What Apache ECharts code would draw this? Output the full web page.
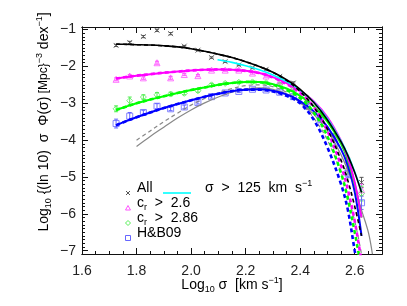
<!DOCTYPE html>
<html><head><meta charset="utf-8">
<script src="https://cdn.jsdelivr.net/npm/echarts@6/dist/echarts.min.js"></script>
<style>html,body{margin:0;padding:0;background:#fff}#c{width:407px;height:306px}</style>
</head><body><div id="c"></div>
<script>
// ---------- data ----------
const xTicks = [1.6, 1.8, 2.0, 2.2, 2.4, 2.6];
const yTicks = [-7, -6, -5, -4, -3, -2, -1];
const binX = [1.725,1.775,1.825,1.875,1.925,1.975,2.025,2.075,2.125,2.175,2.225,2.275,2.325,2.375,2.425,2.475,2.525,2.575,2.625];
const allPts  = [-1.43,-1.35,-1.19,-1.02,-1.11,-1.45,-1.56,-1.76,-1.87,-1.96,-2.04,-2.08,-2.27,-2.45,-2.95,-3.35,-3.95,-4.55,-5.15];
const allErr  = [0.03,0.03,0.03,0.03,0.03,0.02,0.02,0.02,0.02,0.02,0.02,0.02,0.02,0.03,0.03,0.04,0.06,0.08,0.14];
const cr26Pts = [-2.35,-2.26,-2.31,-1.90,-2.31,-2.22,-2.25,-2.10,-2.10,-2.10,-2.18,-2.26,-2.40,-2.60,-2.90,-3.32,-3.92,-4.75,-5.35];
const cr26Err = [0.04,0.04,0.04,0.04,0.04,0.03,0.03,0.03,0.03,0.03,0.03,0.03,0.03,0.03,0.04,0.05,0.07,0.10,0.16];
const cr286Pts= [-3.15,-2.93,-2.83,-2.77,-2.75,-2.73,-2.66,-2.50,-2.46,-2.43,-2.42,-2.44,-2.50,-2.62,-2.85,-3.30,-3.90,-4.80,-5.45];
const cr286Err= [0.08,0.10,0.06,0.06,0.05,0.04,0.04,0.04,0.03,0.03,0.03,0.03,0.03,0.04,0.05,0.06,0.08,0.12,0.20];
const hbPts   = [-3.55,-3.35,-3.25,-3.08,-3.15,-3.10,-2.98,-2.82,-2.72,-2.68,-2.62,-2.64,-2.70,-2.82,-3.08,-3.45,-4.10,-4.90,-5.70];
const hbErr   = [0.12,0.10,0.06,0.07,0.05,0.05,0.04,0.04,0.04,0.03,0.03,0.03,0.03,0.04,0.05,0.06,0.08,0.12,0.18];

const fitX     = [1.725,1.75,1.8,1.85,1.9,1.95,2.0,2.05,2.1,2.15,2.2,2.25,2.3,2.35,2.4,2.45,2.5,2.55,2.575,2.6,2.625];
const allFit   = [-1.40,-1.40,-1.41,-1.42,-1.44,-1.47,-1.52,-1.59,-1.67,-1.76,-1.87,-2.00,-2.16,-2.36,-2.62,-2.98,-3.45,-4.05,-4.42,-4.88,-5.42];
const allFitD  = [-1.40,-1.40,-1.41,-1.42,-1.44,-1.47,-1.52,-1.59,-1.67,-1.76,-1.87,-2.00,-2.16,-2.38,-2.68,-3.10,-3.70,-4.55,-5.10,-5.80,-6.60];
const cr26Fit  = [-2.33,-2.30,-2.25,-2.21,-2.17,-2.14,-2.11,-2.09,-2.08,-2.09,-2.12,-2.18,-2.29,-2.45,-2.67,-2.95,-3.38,-4.02,-4.48,-5.15,-6.10];
const cr26FitD = [-2.33,-2.30,-2.25,-2.21,-2.17,-2.14,-2.11,-2.09,-2.08,-2.09,-2.12,-2.18,-2.30,-2.48,-2.72,-3.10,-3.75,-4.70,-5.35,-6.20,-7.30];
const cr286Fit = [-3.18,-3.12,-3.00,-2.90,-2.81,-2.72,-2.64,-2.57,-2.50,-2.45,-2.42,-2.42,-2.48,-2.60,-2.80,-3.08,-3.50,-4.10,-4.55,-5.20,-6.10];
const cr286FitD= [-3.18,-3.12,-3.00,-2.90,-2.81,-2.72,-2.64,-2.57,-2.50,-2.45,-2.42,-2.43,-2.50,-2.64,-2.86,-3.25,-3.90,-4.90,-5.60,-6.50,-7.50];
const hbFit    = [-3.60,-3.52,-3.38,-3.25,-3.13,-3.02,-2.92,-2.82,-2.74,-2.67,-2.63,-2.62,-2.66,-2.76,-2.94,-3.22,-3.64,-4.25,-4.70,-5.40,-6.60];
const hbFitD   = [-3.60,-3.52,-3.38,-3.25,-3.13,-3.02,-2.92,-2.82,-2.74,-2.67,-2.63,-2.63,-2.68,-2.80,-3.00,-3.45,-4.20,-5.20,-5.90,-7.00,-8.00];
const cutX     = [2.097,2.15,2.2,2.25,2.3,2.35,2.4,2.45,2.5,2.55,2.575,2.6,2.625];
const cutFit   = [-1.82,-1.89,-1.98,-2.09,-2.23,-2.41,-2.64,-2.97,-3.42,-4.03,-4.40,-4.86,-5.40];
const grayX    = [1.8,1.85,1.9,1.95,2.0,2.05,2.1,2.15,2.2,2.25,2.3,2.35,2.4,2.45,2.5,2.55,2.6,2.625,2.65,2.665];
const grayS    = [-4.17,-3.90,-3.65,-3.40,-3.18,-2.99,-2.83,-2.70,-2.62,-2.58,-2.62,-2.75,-2.98,-3.30,-3.75,-4.40,-5.30,-5.90,-6.50,-7.10];
const grayD    = [-4.00,-3.75,-3.50,-3.27,-3.05,-2.87,-2.72,-2.60,-2.52,-2.50,-2.55,-2.70,-2.98,-3.40,-4.00,-4.90,-6.20,-7.10,null,null];

// ---------- helpers ----------
const zip = (xs, ys) => xs.map((x, i) => [x, ys[i]]);
const minus = v => (v < 0 ? '\u2212' + Math.abs(v) : String(v));
const range = (a, b, s) => { const r = []; for (let v = a; v <= b + 1e-9; v += s) r.push(+v.toFixed(3)); return r; };
const xMinor = range(1.6, 2.7, 0.05);
const yMinor = range(-7.0, -1.0, 0.1);
const AX = '#111';
const FONT = 'Liberation Sans, Arial, sans-serif';

function xAx(pos, ticks, len, labels) {
  return { type: 'value', min: 1.6, max: 2.7, position: pos, gridIndex: 0,
    axisLine: { show: true, lineStyle: { color: AX, width: 1 } },
    axisTick: { show: true, inside: true, length: len, customValues: ticks, lineStyle: { color: AX } },
    axisLabel: labels ? { show: true, customValues: xTicks, formatter: v => v.toFixed(1), color: '#222', fontSize: 14, fontFamily: FONT, margin: 10 } : { show: false },
    splitLine: { show: false } };
}
function yAx(pos, ticks, len, labels) {
  return { type: 'value', min: -7.09, max: -0.93, position: pos, gridIndex: 0,
    axisLine: { show: true, lineStyle: { color: AX, width: 1 } },
    axisTick: { show: true, inside: true, length: len, customValues: ticks, lineStyle: { color: AX } },
    axisLabel: labels ? { show: true, customValues: yTicks, formatter: minus, color: '#222', fontSize: 14, fontFamily: FONT, margin: 6 } : { show: false },
    splitLine: { show: false } };
}

function line(name, xs, ys, color, width, dashed, z) {
  return { type: 'line', name, data: zip(xs, ys), showSymbol: false, smooth: 0.35, clip: true,
    lineStyle: { color, width, type: dashed ? [4, 3] : 'solid' }, z: z || 3, silent: true, animation: false };
}
function pts(name, ys, symbol, color, size) {
  return { type: 'scatter', name, data: zip(binX, ys), symbol, symbolSize: size,
    itemStyle: { color: 'rgba(0,0,0,0)', borderColor: color, borderWidth: 1 }, z: 2, silent: true, animation: false };
}
function errs(ys, es, color) {
  return { type: 'custom', z: 2, silent: true, animation: false,
    data: binX.map((x, i) => [x, ys[i], es[i]]),
    renderItem: (p, api) => {
      const x = api.value(0), y = api.value(1), e = api.value(2);
      const a = api.coord([x, y - e]), b = api.coord([x, y + e]);
      return { type: 'group', children: [
        { type: 'line', shape: { x1: a[0], y1: a[1], x2: b[0], y2: b[1] }, style: { stroke: color, lineWidth: 1 } },
        { type: 'line', shape: { x1: a[0] - 2, y1: a[1], x2: a[0] + 2, y2: a[1] }, style: { stroke: color, lineWidth: 1 } },
        { type: 'line', shape: { x1: b[0] - 2, y1: b[1], x2: b[0] + 2, y2: b[1] }, style: { stroke: color, lineWidth: 1 } }
      ] };
    } };
}

const cX = 'path://M0,0L10,10M10,0L0,10';
const cAll = '#555', cMag = '#ff55ff', cGrn = '#55ee55', cBlu = '#6666ff';

const chart = echarts.init(document.getElementById('c'), null, { renderer: 'canvas' });
const rich = {
  n: { fontSize: 14, fontFamily: FONT, color: '#222', lineHeight: 18 },
  s: { fontSize: 9, fontFamily: FONT, color: '#222', lineHeight: 18, verticalAlign: 'bottom' },
  p: { fontSize: 9, fontFamily: FONT, color: '#222', lineHeight: 18, verticalAlign: 'top' }
};

chart.setOption({
  animation: false,
  grid: { left: 82, top: 27, right: 25, bottom: 52, containLabel: false },
  xAxis: [xAx('bottom', xTicks, 6, true), xAx('bottom', xMinor, 3, false), xAx('top', xTicks, 6, false), xAx('top', xMinor, 3, false)],
  yAxis: [yAx('left', yTicks, 6, true), yAx('left', yMinor, 3, false), yAx('right', yTicks, 6, false), yAx('right', yMinor, 3, false)],
  series: [
    errs(allPts, allErr, cAll), errs(cr26Pts, cr26Err, cMag), errs(cr286Pts, cr286Err, cGrn), errs(hbPts, hbErr, cBlu),
    pts('All', allPts, cX, cAll, 5),
    pts('cr>2.6', cr26Pts, 'triangle', cMag, 6),
    pts('cr>2.86', cr286Pts, 'diamond', cGrn, 6),
    pts('H&B09', hbPts, 'rect', cBlu, 6),
    line('gray', grayX, grayS, '#888', 1.2, false, 3),
    line('grayD', grayX, grayD, '#888', 1.2, true, 3),
    line('hbFit', fitX, hbFit, '#0000ff', 2, false, 4),
    line('hbFitD', fitX, hbFitD, '#0000ff', 2.6, true, 4),
    line('cr286Fit', fitX, cr286Fit, '#00ff00', 2, false, 4),
    line('cr286FitD', fitX, cr286FitD, '#00ff00', 2.6, true, 4),
    line('cr26Fit', fitX, cr26Fit, '#ff00ff', 2, false, 4),
    line('cr26FitD', fitX, cr26FitD, '#ff00ff', 2.6, true, 4),
    line('cut', cutX, cutFit, '#00ffff', 1.6, false, 5),
    line('allFit', fitX, allFit, '#000', 1.6, false, 6),
    line('allFitD', fitX, allFitD, '#000', 1.6, true, 6)
  ],
  graphic: [
    { type: 'text', x: 44, y: 122, rotation: Math.PI / 2,
      style: { text: '{n|Log}{s|10}{n| {(ln 10)  σ  Φ(σ)} [Mpc}{p|−3}{n| dex}{p|−1}{n|]}', rich, align: 'center', verticalAlign: 'middle' } },
    { type: 'text', x: 232, y: 285,
      style: { text: '{n|Log}{s|10}{n| σ  [km s}{p|−1}{n|]}', rich, align: 'center', verticalAlign: 'middle' } },
    // legend
    { type: 'polyline', shape: { points: [[126, 191], [130, 195]] }, style: { stroke: cAll, lineWidth: 1 } },
    { type: 'polyline', shape: { points: [[130, 191], [126, 195]] }, style: { stroke: cAll, lineWidth: 1 } },
    { type: 'text', x: 137, y: 188, style: { text: '{n|All}', rich, verticalAlign: 'middle' } },
    { type: 'line', shape: { x1: 163, y1: 193, x2: 191, y2: 193 }, style: { stroke: '#00ffff', lineWidth: 1.6 } },
    { type: 'text', x: 205, y: 188, style: { text: '{n|σ  >  125  km  s}{p|−1}', rich, verticalAlign: 'middle' } },
    { type: 'polygon', shape: { points: [[128, 205.5], [125.5, 210], [130.5, 210]] }, style: { stroke: cMag, fill: 'none', lineWidth: 1 } },
    { type: 'text', x: 137, y: 203, style: { text: '{n|c}{s|r}{n|  >  2.6}', rich, verticalAlign: 'middle' } },
    { type: 'polygon', shape: { points: [[128, 220.5], [130.5, 223], [128, 225.5], [125.5, 223]] }, style: { stroke: cGrn, fill: 'none', lineWidth: 1 } },
    { type: 'text', x: 137, y: 218, style: { text: '{n|c}{s|r}{n|  >  2.86}', rich, verticalAlign: 'middle' } },
    { type: 'rect', shape: { x: 125.5, y: 235.5, width: 5, height: 5 }, style: { stroke: cBlu, fill: 'none', lineWidth: 1 } },
    { type: 'text', x: 137, y: 233, style: { text: '{n|H&B09}', rich, verticalAlign: 'middle' } }
  ]
});
</script></body></html>
